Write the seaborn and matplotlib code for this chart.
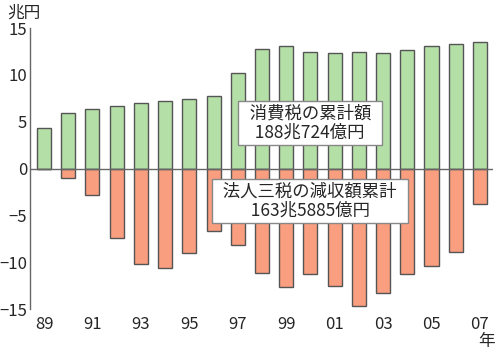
import pandas as pd
import matplotlib
matplotlib.use("Agg")
import matplotlib.pyplot as plt
import seaborn as sns

# 年度 (89〜07)
years = ['89', '90', '91', '92', '93', '94', '95', '96', '97', '98',
         '99', '00', '01', '02', '03', '04', '05', '06', '07']
# 消費税 (兆円)
consumption_tax = [4.3, 5.9, 6.4, 6.7, 7.0, 7.2, 7.4, 7.7, 10.2, 12.8,
                   13.1, 12.5, 12.3, 12.4, 12.3, 12.7, 13.1, 13.3, 13.5]
# 法人三税の減収額 (兆円)
corp_tax_cut = [0.0, -1.0, -2.8, -7.4, -10.2, -10.6, -9.0, -6.7, -8.2, -11.2,
                -12.6, -11.3, -12.5, -14.7, -13.3, -11.3, -10.4, -8.9, -3.8]

df = pd.DataFrame({'year': years, 'consumption': consumption_tax, 'corp': corp_tax_cut})

sns.set_style("white")
plt.rcParams['font.family'] = ['Noto Sans CJK JP', 'DejaVu Sans']

fig = plt.figure(figsize=(5, 3.56), dpi=100)
ax = fig.add_axes([0.06, 0.132, 0.926, 0.789])

sns.barplot(data=df, x='year', y='consumption', order=years, color='#b4e0a8',
            saturation=1, width=0.58, edgecolor='#555555', linewidth=1, ax=ax)
sns.barplot(data=df, x='year', y='corp', order=years, color='#f99e7f',
            saturation=1, width=0.58, edgecolor='#555555', linewidth=1, ax=ax)

ax.axhline(0, color='#666666', linewidth=1, zorder=5)
ax.set_xlim(-0.58, 18.54)
ax.set_ylim(-15, 15)
ax.set_yticks([-15, -10, -5, 0, 5, 10, 15])
ax.set_xticks(range(len(years)))
ax.set_xticklabels([y if i % 2 == 0 else '' for i, y in enumerate(years)])
ax.set_xlabel('')
ax.set_ylabel('')

for s in ['top', 'right', 'bottom']:
    ax.spines[s].set_visible(False)
ax.spines['left'].set_color('#666666')
ax.spines['left'].set_linewidth(1)
ax.tick_params(axis='y', direction='in', length=6, color='#666666', labelsize=12, pad=2)
ax.tick_params(axis='x', length=0, labelsize=12, pad=5)

fig.text(0.014, 0.962, '兆円', fontsize=12, ha='left', va='center')
fig.text(0.974, 0.04, '年', fontsize=12, ha='center', va='center')

box = dict(boxstyle='square,pad=0.2', facecolor='white', edgecolor='#888888', linewidth=1)
ax.text(0.605, 0.662, '  消費税の累計額  \n  188兆724億円  ', transform=ax.transAxes,
        fontsize=12.5, ha='center', va='center', linespacing=1.05, bbox=box, zorder=10)
ax.text(0.605, 0.384, '  法人三税の減収額累計  \n  163兆5885億円  ', transform=ax.transAxes,
        fontsize=12.5, ha='center', va='center', linespacing=1.05, bbox=box, zorder=10)

plt.savefig('out.png', dpi=100)
